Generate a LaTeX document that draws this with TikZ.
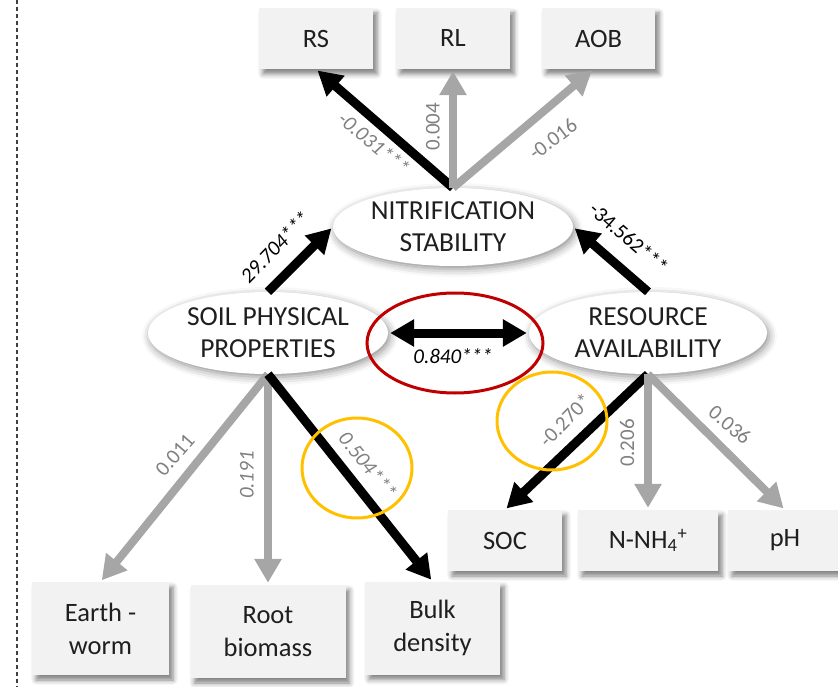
\documentclass[tikz,border=0pt]{standalone}
\usepackage{fontspec}
\setmainfont{Carlito}
\usetikzlibrary{arrows.meta,shapes.geometric,shadows.blur}

\definecolor{boxfill}{HTML}{F2F2F2}
\definecolor{textdark}{HTML}{1F1F1F}
\definecolor{arrowgray}{HTML}{A6A6A6}
\definecolor{labelgray}{HTML}{808080}
\definecolor{ringred}{HTML}{C00000}
\definecolor{ringyellow}{HTML}{FFC000}
\definecolor{frameline}{HTML}{404040}

\begin{document}
\begin{tikzpicture}[x=1pt, y=-1pt,
  varbox/.style={rectangle, fill=boxfill, inner sep=0pt, align=center,
    minimum height=61pt, font=\fontsize{26.5}{33}\selectfont, text=textdark,
    blur shadow={shadow xshift=4pt, shadow yshift=-5pt,
      shadow blur radius=5pt, shadow opacity=50}},
  tallbox/.style={varbox, minimum height=93pt},
  latent/.style={ellipse, fill=white, inner sep=0pt,
    blur shadow={shadow xshift=2pt, shadow yshift=-3pt,
      shadow blur radius=8pt, shadow opacity=45}},
  latenttext/.style={align=center, font=\fontsize{27.5}{32}\selectfont, text=textdark},
  effect/.style={-{Triangle[length=24pt,width=26pt]}, shorten >=2pt},
  sigeffect/.style={effect, line width=9pt, draw=black},
  nseffect/.style={effect, line width=8pt, draw=arrowgray},
  coef/.style={inner sep=0pt, font=\fontsize{21}{25}\selectfont, text=labelgray},
  icoef/.style={coef, font=\fontsize{21}{25}\selectfont\itshape},
  sigcoef/.style={coef, text=black},
  ring/.style={ellipse, draw, line width=3pt, fill=none, inner sep=0pt},
]
\useasboundingbox (0,0) rectangle (838,687);

% left frame line
\draw[frameline, line width=1.6pt, dash pattern=on 4pt off 3pt] (17,0) -- (17,687);

% observed indicators
\node[varbox, minimum width=114pt] (rs)  at (316,38.5)  {RS};
\node[varbox, minimum width=114pt] (rl)  at (453,38.5)  {RL};
\node[varbox, minimum width=113pt] (aob) at (598.5,38.5) {AOB};

\node[varbox, minimum width=114pt] (soc) at (505,540.5) {SOC};
\node[varbox, minimum width=140pt] (nh)  at (648,540.5) {N-NH\textsubscript{4}\textsuperscript{+}};
\node[varbox, minimum width=114pt] (ph)  at (785,540.5) {pH};

\node[tallbox, minimum width=137pt] (ew) at (100.5,628.5) {Earth -\\worm};
\node[tallbox, minimum width=155pt] (rb) at (268,631.5)   {Root\\biomass};
\node[tallbox, minimum width=135pt] (bd) at (432.5,628)   {Bulk\\density};

% latent constructs
\node[latent, minimum width=240pt, minimum height=78pt] (ns) at (453,227) {};
\node[latent, minimum width=240pt, minimum height=82pt] (sp) at (268,333) {};
\node[latent, minimum width=238pt, minimum height=82pt] (ra) at (648,333) {};
\node[latenttext] (nstext) at (ns) {NITRIFICATION\\STABILITY};
\node[latenttext] (sptext) at (sp) {SOIL PHYSICAL\\PROPERTIES};
\node[latenttext] (ratext) at (ra) {RESOURCE\\AVAILABILITY};

% paths from nitrification stability
\draw[sigeffect] (ns.north) -- (rs.south);
\draw[nseffect]  (ns.north) -- (rl.south);
\draw[nseffect]  (ns.north) -- ([xshift=-5pt]aob.south);

% structural paths
\draw[sigeffect] (sp.north) -- (ns.west);
\draw[sigeffect] (ra.north) -- (ns.east);
\draw[sigeffect, {Triangle[length=24pt,width=26pt]}-{Triangle[length=24pt,width=26pt]}, shorten <=2pt]
  (sp.east) -- (ra.west);

% soil physical properties indicators
\draw[nseffect]  (sp.south) -- (ew.north);
\draw[nseffect]  (sp.south) -- (rb.north);
\draw[sigeffect] (sp.south) -- (bd.north);

% resource availability indicators
\draw[sigeffect] (ra.south) -- (soc.north);
\draw[nseffect]  (ra.south) -- (nh.north);
\draw[nseffect]  (ra.south) -- (ph.north);

% path coefficients
\node[icoef, rotate=-40] (c1) at (374,143) {-0.031***};
\node[coef, rotate=90] (c2) at (433,127) {0.004};
\node[coef, rotate=37] (c3) at (553,139) {-0.016};
\node[sigcoef, icoef, text=black, rotate=46] (c4) at (275,247) {29.704***};
\node[sigcoef, rotate=-41] (c5) at (629,238) {-34.562***};
\node[sigcoef, icoef, text=black] (c6) at (453,356) {0.840***};
\node[coef, rotate=49] (c7) at (175,455) {0.011};
\node[icoef, rotate=90] (c8) at (247,475) {0.191};
\node[icoef, rotate=-51] (c9) at (368,465) {0.504***};
\node[coef, rotate=46] (c10) at (565,420) {-0.270*};
\node[coef, rotate=90] (c11) at (627,443) {0.206};
\node[coef, rotate=-40] (c12) at (730,425) {0.036};

% highlight rings
\node[ring, draw=ringred, minimum width=176pt, minimum height=100pt] (hlcorr) at (455,343) {};
\node[ring, draw=ringyellow, minimum width=110pt, minimum height=100pt] (hlbd) at (357,468) {};
\node[ring, draw=ringyellow, minimum width=110pt, minimum height=98pt] (hlsoc) at (552,421) {};
\end{tikzpicture}
\end{document}
